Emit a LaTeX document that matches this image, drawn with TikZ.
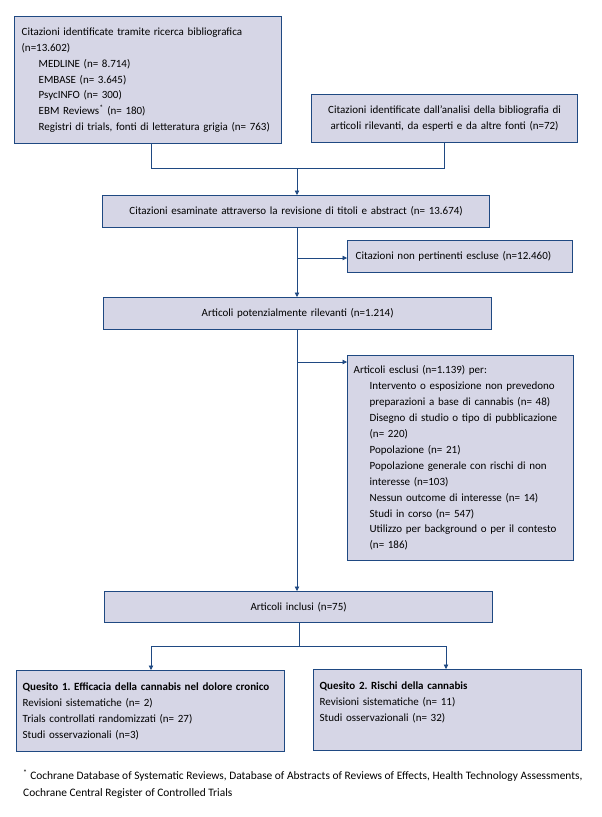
\documentclass[tikz,border=0pt]{standalone}
\usepackage{fontspec}
\setmainfont{Carlito}
\usetikzlibrary{arrows.meta}
\definecolor{boxfill}{RGB}{214,214,230}
\definecolor{boxline}{RGB}{31,73,130}
\frenchspacing
\begin{document}
\begin{tikzpicture}[x=1pt,y=-1pt,
  every node/.style={font=\fontsize{11}{15.9}\selectfont, text=black},
  flowbox/.style={draw=boxline, fill=boxfill, line width=1.3pt, rectangle, inner ysep=0pt, anchor=north west},
  conn/.style={draw=boxline, line width=0.8pt},
  arr/.style={conn, -{Triangle[length=4.5pt,width=4.5pt]}}]
\useasboundingbox (0,0) rectangle (602,817);
\fill[white] (0,0) rectangle (602,817);
\newcommand{\ind}{\hspace*{17pt}}
% boxes
\node[flowbox, minimum width=267pt, minimum height=127pt, text width=253pt, inner xsep=7pt, align=left] (A) at (14,16)
 {Citazioni identificate tramite ricerca bibliografica\\(n=13.602)\\\ind MEDLINE (n= 8.714)\\\ind EMBASE (n= 3.645)\\\ind PsycINFO (n= 300)\\\ind EBM Reviews\textsuperscript{*} (n= 180)\\\ind Registri di trials, fonti di letteratura grigia (n= 763)};
\node[flowbox, minimum width=266pt, minimum height=48pt, text width=258pt, inner xsep=4pt, align=center] (B) at (311,94)
 {Citazioni identificate dall’analisi della bibliografia di\\articoli rilevanti, da esperti e da altre fonti (n=72)};
\node[flowbox, minimum width=387pt, minimum height=32pt, text width=375pt, inner xsep=6pt, align=center] (C) at (102,195)
 {Citazioni esaminate attraverso la revisione di titoli e abstract (n= 13.674)};
\node[flowbox, minimum width=225pt, minimum height=32pt, text width=209pt, inner xsep=8pt, align=left] (E) at (347,240)
 {Citazioni non pertinenti escluse (n=12.460)};
\node[flowbox, minimum width=388pt, minimum height=32pt, text width=376pt, inner xsep=6pt, align=center] (D) at (103,297)
 {Articoli potenzialmente rilevanti (n=1.214)};
\node[flowbox, minimum width=226pt, minimum height=205pt, text width=214pt, inner xsep=6pt, align=left] (F) at (347,355)
 {Articoli esclusi (n=1.139) per:\\
 \hspace*{16pt}Intervento o esposizione non prevedono\\
 \hspace*{16pt}preparazioni a base di cannabis (n= 48)\\
 \hspace*{16pt}Disegno di studio o tipo di pubblicazione\\
 \hspace*{16pt}(n= 220)\\
 \hspace*{16pt}Popolazione (n= 21)\\
 \hspace*{16pt}Popolazione generale con rischi di non\\
 \hspace*{16pt}interesse (n=103)\\
 \hspace*{16pt}Nessun outcome di interesse (n= 14)\\
 \hspace*{16pt}Studi in corso (n= 547)\\
 \hspace*{16pt}Utilizzo per background o per il contesto\\
 \hspace*{16pt}(n= 186)};
\node[flowbox, minimum width=388pt, minimum height=31pt, text width=376pt, inner xsep=6pt, align=center] (G) at (104,591)
 {Articoli inclusi (n=75)};
\node[flowbox, minimum width=268pt, minimum height=81pt, text width=256pt, inner xsep=6pt, align=left] (H) at (16,670)
 {\textbf{Quesito 1. Efficacia della cannabis nel dolore cronico}\\Revisioni sistematiche (n= 2)\\Trials controllati randomizzati (n= 27)\\Studi osservazionali (n=3)};
\node[flowbox, minimum width=268pt, minimum height=81pt, text width=256pt, inner xsep=6pt, align=left] (I) at (313,669)
 {\textbf{Quesito 2. Rischi della cannabis}\\Revisioni sistematiche (n= 11)\\Studi osservazionali (n= 32)\\\vphantom{(}};
% footnote
\node[anchor=north west, inner sep=0pt, align=left, font=\fontsize{11.4}{17}\selectfont] (fn) at (23,770)
 {\textsuperscript{*} Cochrane Database of Systematic Reviews, Database of Abstracts of Reviews of Effects, Health Technology Assessments,\\Cochrane Central Register of Controlled Trials};
% connectors
\coordinate (j1) at (151,168);
\coordinate (j2) at (444,168);
\coordinate (jm) at (297,168);
\draw[conn] (A.south -| j1) -- (j1) -- (j2) -- (B.south -| j2);
\draw[arr] (jm) -- (C.north -| jm);
\coordinate (c1) at (297,227);
\coordinate (b1) at (297,258);
\draw[arr] (C.south -| c1) -- (D.north -| c1);
\draw[arr] (b1) -- (E.west |- b1);
\coordinate (d1) at (297,329);
\coordinate (b2) at (297,362);
\draw[arr] (D.south -| d1) -- (G.north -| d1);
\draw[arr] (b2) -- (F.west |- b2);
\coordinate (k1) at (151,646);
\coordinate (k2) at (446,646);
\coordinate (km) at (299,646);
\draw[conn] (G.south -| km) -- (km);
\draw[conn] (k1) -- (k2);
\draw[arr] (k1) -- (H.north -| k1);
\draw[arr] (k2) -- (I.north -| k2);
\end{tikzpicture}
\end{document}
